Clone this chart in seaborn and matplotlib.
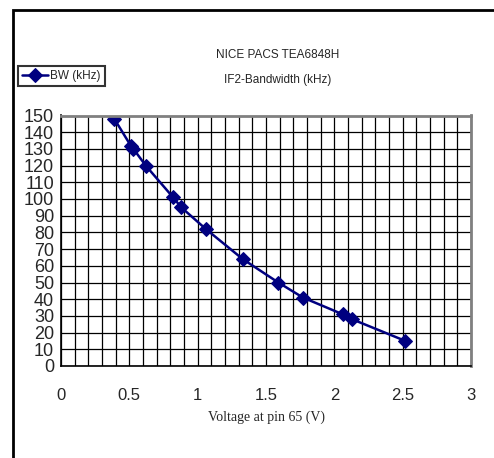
import numpy as np
import pandas as pd
import matplotlib
matplotlib.use("Agg")
import matplotlib.pyplot as plt
from matplotlib.patches import Rectangle
from matplotlib.ticker import MultipleLocator
import seaborn as sns

# datos
voltage = [0.39, 0.51, 0.53, 0.62, 0.82, 0.88, 1.06, 1.33, 1.59, 1.77, 2.06, 2.13, 2.52]
bandwidth = [148, 132, 130, 120, 101, 95, 82, 64, 50, 41, 31, 28, 15]
x_ticks = [0, 0.5, 1, 1.5, 2, 2.5, 3]
y_ticks = list(range(0, 151, 10))

df = pd.DataFrame({"voltage": voltage, "bw": bandwidth})

sns.set_style("white")
plt.rcParams["font.family"] = ["Liberation Sans", "DejaVu Sans"]

fig = plt.figure(figsize=(4.94, 4.58), dpi=100)
ax = fig.add_axes([61 / 494, 1 - 366 / 458, 410 / 494, 250.5 / 458])

sns.lineplot(data=df, x="voltage", y="bw", ax=ax, color="#000080", marker="D",
             markersize=7, markeredgecolor="#000080", linewidth=1.8, label="BW (kHz)",
             sort=False)

ax.set_xlim(0, 3)
ax.set_ylim(0, 150)
ax.set_xticks(x_ticks)
ax.set_xticklabels([str(t) for t in x_ticks], fontsize=12)
ax.xaxis.set_minor_locator(MultipleLocator(0.1))
ax.set_yticks(y_ticks)
ax.set_yticklabels([str(t) for t in y_ticks], fontsize=13)

ax.grid(True, which="both", color="black", linewidth=0.9)
ax.set_axisbelow(True)
ax.tick_params(axis="both", which="major", direction="out", length=4, width=1,
               color="black", pad=1)
ax.tick_params(axis="x", which="minor", length=0)
ax.tick_params(axis="x", which="major", pad=12)

for s in ["left", "bottom"]:
    ax.spines[s].set_color("black")
    ax.spines[s].set_linewidth(1.2)
for s in ["top", "right"]:
    ax.spines[s].set_color("#808080")
    ax.spines[s].set_linewidth(2)

ax.set_xlabel("Voltage at pin 65 (V)", fontsize=10, family=["Liberation Serif"], labelpad=5)
ax.set_ylabel("")

fig.text(278 / 494, 1 - 55 / 458, "NICE PACS TEA6848H", ha="center", va="center", fontsize=8.5)
fig.text(278 / 494, 1 - 80 / 458, "IF2-Bandwidth (kHz)", ha="center", va="center", fontsize=8.5)

ax.get_legend().remove()
leg = fig.legend(*ax.get_legend_handles_labels(), loc="upper left",
                 bbox_to_anchor=(18 / 494, 1 - 66 / 458), frameon=True, fancybox=False,
                 fontsize=8.5, borderpad=0.35, handlelength=2.2, handletextpad=0.2,
                 borderaxespad=0)
leg.get_frame().set_edgecolor("black")
leg.get_frame().set_linewidth(1.5)

fig.patches.append(Rectangle((13 / 494, -0.1), 1.2, 1 - 10 / 458 + 0.1,
                             transform=fig.transFigure, fill=False,
                             edgecolor="black", linewidth=2))

fig.savefig("out.png", dpi=100)
